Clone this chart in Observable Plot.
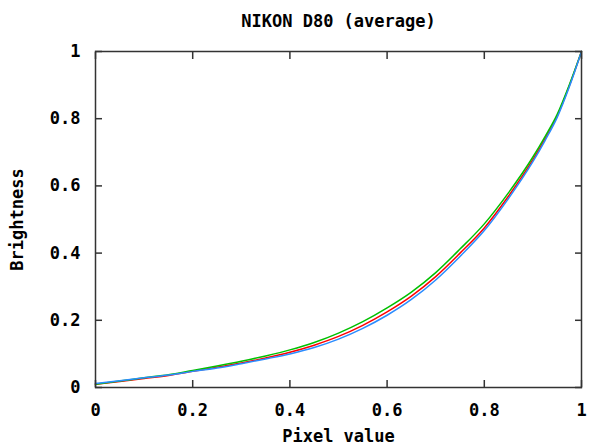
<!DOCTYPE html>
<html>
<head>
<meta charset="utf-8">
<script src="https://cdn.jsdelivr.net/npm/d3@7"></script>
<script src="https://cdn.jsdelivr.net/npm/@observablehq/plot@0.6"></script>
<style>
  html, body { margin: 0; padding: 0; background: #fff; }
  #chart svg { display: block; }
</style>
</head>
<body>
<div id="chart"></div>
<script>
const title = "NIKON D80 (average)";
const xLabel = "Pixel value";
const yLabel = "Brightness";
const tickValues = [0, 0.2, 0.4, 0.6, 0.8, 1];
const tickLabels = ["0", "0.2", "0.4", "0.6", "0.8", "1"];

const pixel = [0, 0.05, 0.1, 0.15, 0.2, 0.25, 0.3, 0.35, 0.4, 0.45, 0.5, 0.55, 0.6, 0.65, 0.7, 0.75, 0.8, 0.85, 0.9, 0.925, 0.95, 0.975, 1];
const red   = [0.010, 0.018, 0.027, 0.036, 0.048, 0.060, 0.073, 0.088, 0.105, 0.126, 0.152, 0.185, 0.225, 0.272, 0.330, 0.400, 0.475, 0.570, 0.678, 0.740, 0.808, 0.898, 1.000];
const green = [0.010, 0.019, 0.029, 0.038, 0.051, 0.064, 0.078, 0.094, 0.112, 0.134, 0.162, 0.196, 0.237, 0.284, 0.342, 0.412, 0.487, 0.580, 0.686, 0.747, 0.813, 0.901, 1.000];
const blue  = [0.012, 0.020, 0.029, 0.037, 0.048, 0.058, 0.071, 0.085, 0.100, 0.119, 0.144, 0.176, 0.215, 0.262, 0.320, 0.390, 0.467, 0.563, 0.672, 0.735, 0.804, 0.895, 1.000];

const series = [
  {name: "red", values: red, color: "#ff0000"},
  {name: "green", values: green, color: "#00c000"},
  {name: "blue", values: blue, color: "#2a8cff"}
];

const font = "'DejaVu Sans Mono', monospace";
const fmt = d => tickLabels[tickValues.indexOf(d)] ?? String(d);

const chart = Plot.plot({
  width: 589,
  height: 446,
  marginLeft: 95,
  marginRight: 8,
  marginTop: 51,
  marginBottom: 59,
  style: {fontFamily: font, fontSize: "17px", fontWeight: "bold", color: "#000", background: "#fff"},
  x: {domain: [0, 1]},
  y: {domain: [0, 1]},
  marks: [
    ...series.map(s => Plot.line(pixel.map((p, i) => ({x: p, y: s.values[i]})), {x: "x", y: "y", stroke: s.color, strokeWidth: 1.5, curve: "monotone-x"})),
    Plot.frame({stroke: "#333", strokeWidth: 1.5}),
    Plot.axisX({anchor: "bottom", ticks: tickValues, tickSize: 7, text: null, label: null, dy: -7, stroke: "#333", strokeWidth: 1.5}),
    Plot.axisX({anchor: "top", ticks: tickValues, tickSize: 7, text: null, label: null, dy: 7, stroke: "#333", strokeWidth: 1.5}),
    Plot.axisY({anchor: "left", ticks: tickValues, tickSize: 7, text: null, label: null, dx: 7, stroke: "#333", strokeWidth: 1.5}),
    Plot.axisY({anchor: "right", ticks: tickValues, tickSize: 7, text: null, label: null, dx: -7, stroke: "#333", strokeWidth: 1.5}),
    Plot.axisX({anchor: "bottom", ticks: tickValues, tickSize: 0, tickPadding: 16, tickFormat: fmt, label: null, fill: "#000"}),
    Plot.axisY({anchor: "left", ticks: tickValues, tickSize: 0, tickPadding: 15, tickFormat: fmt, label: null, fill: "#000"}),
    Plot.text([title], {frameAnchor: "top", dy: -37, text: d => d, fontSize: 17, fontWeight: "bold", fill: "#000"}),
    Plot.text([xLabel], {frameAnchor: "bottom", dy: 54, text: d => d, fontSize: 17, fontWeight: "bold", fill: "#000"}),
    Plot.text([yLabel], {frameAnchor: "left", textAnchor: "middle", dx: -78, rotate: -90, text: d => d, fontSize: 17, fontWeight: "bold", fill: "#000"})
  ]
});
document.getElementById("chart").appendChild(chart);
</script>
</body>
</html>
